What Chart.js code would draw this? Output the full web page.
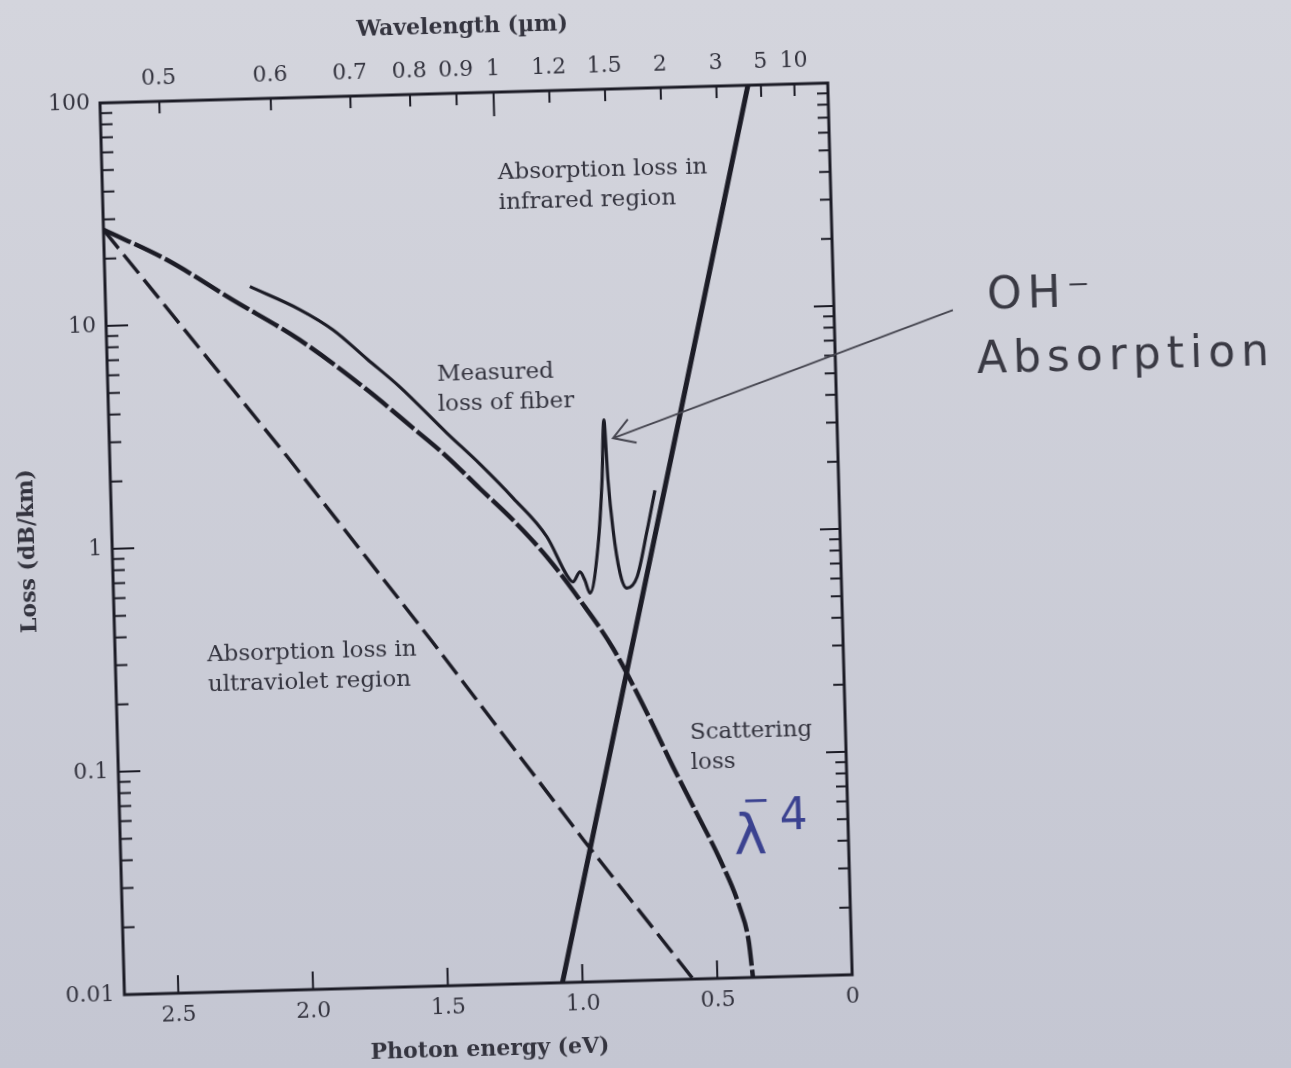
<!DOCTYPE html>
<html>
<head>
<meta charset="utf-8">
<title>Loss vs photon energy</title>
<script src="https://cdn.jsdelivr.net/npm/chart.js@4.4.1/dist/chart.umd.min.js"></script>
<style>
  html, body { margin: 0; padding: 0; width: 1291px; height: 1068px; overflow: hidden;
    background: linear-gradient(#d4d5dd, #c4c6d2); }
  /* la foto está un poco girada */
  #wrap { position: absolute; left: 0; top: 0; width: 1340px; height: 1120px;
    transform-origin: 100px 103px; transform: rotate(-1.57deg); }
</style>
</head>
<body>
<div id="wrap"><canvas id="lossChart"></canvas></div>
<script>
// Energía del fotón (eV) y pérdida (dB/km)
var uvEnergy = [2.7, 2.04, 1.53, 0.98, 0.59];
var uvLoss = [27, 2.45, 0.36, 0.043, 0.01];

var scatEnergy = [2.7, 2.467, 2.227, 1.983, 1.739, 1.573, 1.449, 1.331, 1.211, 1.089, 0.971, 0.853, 0.734, 0.643, 0.559, 0.478, 0.409, 0.38, 0.368];
var scatLoss = [27, 19.4, 12.6, 8.18, 4.8, 3.2, 2.35, 1.68, 1.2, 0.813, 0.516, 0.31, 0.158, 0.09, 0.055, 0.034, 0.0205, 0.0145, 0.01];

var irEnergy = [1.075, 0.51, 0.296];
var irLoss = [0.01, 7.9, 100];

var fiberEnergy = [2.163, 1.98, 1.859, 1.736, 1.617, 1.447, 1.328, 1.209, 1.087, 1.017, 0.995, 0.968, 0.951, 0.933, 0.899, 0.877, 0.864, 0.855, 0.841, 0.82, 0.796, 0.757, 0.715, 0.682];
var fiberLoss = [14.4, 11.2, 9.0, 6.6, 4.9, 3.0, 2.16, 1.51, 1.0, 0.67, 0.624, 0.69, 0.634, 0.553, 0.889, 1.77, 3.29, 1.77, 1.05, 0.676, 0.576, 0.645, 1.04, 1.57];

// Marcas de los ejes
var energyTicks = [2.5, 2.0, 1.5, 1.0, 0.5, 0];
var energyLabels = ["2.5", "2.0", "1.5", "1.0", "0.5", "0"];
var wavelengthTicks = [0.5, 0.6, 0.7, 0.8, 0.9, 1, 1.2, 1.5, 2, 3, 5, 10];
var wavelengthLabels = ["0.5", "0.6", "0.7", "0.8", "0.9", "1", "1.2", "1.5", "2", "3", "5", "10"];
var lossTicks = [0.01, 0.1, 1, 10, 100];
var lossLabels = ["0.01", "0.1", "1", "10", "100"];
var lossMinorSteps = [2, 3, 4, 5, 6, 7, 8, 9];

// Textos dentro de la figura (posición en eV, dB/km)
var notas = [
  { lines: ["Absorption loss in", "infrared region"], x: 1.232, y: 43.4 },
  { lines: ["Measured", "loss of fiber"], x: 1.478, y: 5.49 },
  { lines: ["Absorption loss in", "ultraviolet region"], x: 2.359, y: 0.326 },
  { lines: ["Scattering", "loss"], x: 0.577, y: 0.127 }
];

var tinta = "#1c1c26";
var textoColor = "#34343f";

function puntos(xs, ys) {
  return xs.map(function (e, i) { return { x: e, y: ys[i] }; });
}

function esDecada(v) {
  return lossTicks.findIndex(function (d) { return Math.abs(d - v) < d * 1e-6; });
}

// Marco, y marcas hacia dentro en los cuatro lados
var marcoPlugin = {
  id: "marco",
  afterDatasetsDraw: function (chart) {
    var ctx = chart.ctx, a = chart.chartArea, s = chart.scales;
    ctx.save();
    ctx.strokeStyle = tinta;
    ctx.lineWidth = 3;
    ctx.strokeRect(a.left, a.top, a.right - a.left, a.bottom - a.top);
    ctx.lineWidth = 2;
    ctx.beginPath();
    s.y.ticks.forEach(function (t) {
      var py = s.y.getPixelForValue(t.value);
      var mayor = esDecada(t.value) >= 0;
      ctx.moveTo(a.left, py); ctx.lineTo(a.left + (mayor ? 22 : 12), py);
      ctx.moveTo(a.right, py); ctx.lineTo(a.right - (mayor ? 20 : 11), py);
    });
    s.x.ticks.forEach(function (t) {
      var px = s.x.getPixelForValue(t.value);
      ctx.moveTo(px, a.bottom); ctx.lineTo(px, a.bottom - 18);
    });
    s.x2.ticks.forEach(function (t, i) {
      var px = s.x2.getPixelForValue(t.value);
      ctx.moveTo(px, a.top); ctx.lineTo(px, a.top + (wavelengthTicks[i] === 1 ? 24 : 12));
    });
    ctx.stroke();
    ctx.restore();
  }
};

// Textos impresos y anotaciones a mano
var notasPlugin = {
  id: "notas",
  afterDraw: function (chart) {
    var ctx = chart.ctx, x = chart.scales.x, y = chart.scales.y;
    function px(e) { return x.getPixelForValue(e); }
    function py(l) { return y.getPixelForValue(l); }
    ctx.save();
    ctx.fillStyle = textoColor;
    ctx.font = '23px "DejaVu Serif"';
    ctx.textBaseline = "middle";
    ctx.textAlign = "left";
    notas.forEach(function (n) {
      n.lines.forEach(function (t, i) { ctx.fillText(t, px(n.x), py(n.y) + i * 30); });
    });

    // OH- Absorption, a mano
    ctx.fillStyle = "#3a3a44";
    ctx.font = '44px "DejaVu Sans"';
    ctx.letterSpacing = "6px";
    ctx.fillText("OH\u207B", px(-0.569), py(10.5));
    ctx.fillText("Absorption", px(-0.525), py(5.39));
    ctx.letterSpacing = "0px";

    // flecha hacia el pico de OH
    var x0 = px(-0.441), y0 = py(9.27), x1 = px(0.832), y1 = py(2.72);
    var ang = Math.atan2(y0 - y1, x0 - x1);
    ctx.strokeStyle = "#45454f";
    ctx.lineWidth = 2;
    ctx.beginPath();
    ctx.moveTo(x0, y0); ctx.lineTo(x1, y1);
    ctx.moveTo(x1 + 24 * Math.cos(ang - 0.55), y1 + 24 * Math.sin(ang - 0.55));
    ctx.lineTo(x1, y1);
    ctx.lineTo(x1 + 24 * Math.cos(ang + 0.55), y1 + 24 * Math.sin(ang + 0.55));
    ctx.stroke();

    // lambda^-4 en azul
    ctx.fillStyle = "#3b4290";
    ctx.textBaseline = "alphabetic";
    ctx.textAlign = "center";
    ctx.font = '56px "DejaVu Sans"';
    ctx.fillText("\u03BB", px(0.363), py(0.0361));
    ctx.textBaseline = "middle";
    ctx.font = '34px "DejaVu Sans"';
    ctx.fillText("\u2212", px(0.339), py(0.0611));
    ctx.textBaseline = "alphabetic";
    ctx.textAlign = "left";
    ctx.font = '44px "DejaVu Sans"';
    ctx.fillText("4", px(0.253), py(0.0455));
    ctx.restore();
  }
};

Chart.defaults.font.family = '"DejaVu Serif"';
Chart.defaults.color = textoColor;

var tickFont = { size: 22 };
var titleFont = { size: 22, weight: "bold" };

var lossChart = new Chart(document.getElementById("lossChart"), {
  type: "line",
  data: {
    datasets: [
      { label: "Absorption loss in ultraviolet region", data: puntos(uvEnergy, uvLoss),
        borderColor: tinta, borderWidth: 3.5, borderDash: [24, 8], pointRadius: 0, tension: 0 },
      { label: "Scattering loss", data: puntos(scatEnergy, scatLoss),
        borderColor: tinta, borderWidth: 4.5, borderDash: [30, 4], pointRadius: 0, cubicInterpolationMode: "monotone" },
      { label: "Absorption loss in infrared region", data: puntos(irEnergy, irLoss),
        borderColor: tinta, borderWidth: 5, pointRadius: 0, tension: 0 },
      { label: "Measured loss of fiber", data: puntos(fiberEnergy, fiberLoss),
        borderColor: tinta, borderWidth: 3.2, pointRadius: 0, cubicInterpolationMode: "monotone" }
    ]
  },
  options: {
    responsive: true,
    maintainAspectRatio: false,
    animation: false,
    layout: { padding: { left: 0, top: 0, right: 512, bottom: 45 } },
    plugins: { legend: { display: false }, tooltip: { enabled: false } },
    scales: {
      x: {
        type: "linear", position: "bottom", min: 0, max: 2.7, reverse: true,
        grid: { display: false, drawTicks: false }, border: { display: false },
        afterBuildTicks: function (axis) { axis.ticks = energyTicks.map(function (v) { return { value: v }; }); },
        afterFit: function (axis) { axis.height = 80; },
        ticks: { autoSkip: false, maxRotation: 0, padding: 9, font: tickFont,
          callback: function (v, i) { return energyLabels[i]; } },
        title: { display: true, text: "Photon energy (eV)", font: titleFont, padding: { top: 0, bottom: 2 } }
      },
      x2: {
        type: "linear", position: "top", min: 0, max: 2.7, reverse: true,
        grid: { display: false, drawTicks: false }, border: { display: false },
        afterBuildTicks: function (axis) { axis.ticks = wavelengthTicks.map(function (w) { return { value: 1.24 / w }; }); },
        afterFit: function (axis) { axis.height = 103; },
        ticks: { autoSkip: false, maxRotation: 0, padding: 10, font: tickFont,
          callback: function (v, i) { return wavelengthLabels[i]; } },
        title: { display: true, text: "Wavelength (\u00B5m)", font: titleFont, padding: { top: 24, bottom: 0 } }
      },
      y: {
        type: "logarithmic", position: "left", min: 0.01, max: 100,
        grid: { display: false, drawTicks: false }, border: { display: false },
        afterBuildTicks: function (axis) {
          var t = [];
          lossTicks.forEach(function (d, i) {
            t.push({ value: d });
            if (i < lossTicks.length - 1) lossMinorSteps.forEach(function (k) { t.push({ value: k * d }); });
          });
          axis.ticks = t;
        },
        afterFit: function (axis) { axis.width = 100; },
        ticks: { autoSkip: false, padding: 10, font: tickFont,
          callback: function (v) { var i = esDecada(v); return i >= 0 ? lossLabels[i] : ""; } },
        title: { display: true, text: "Loss (dB/km)", font: titleFont, padding: { top: 3, bottom: 0 } }
      }
    }
  },
  plugins: [marcoPlugin, notasPlugin]
});
</script>
</body>
</html>
